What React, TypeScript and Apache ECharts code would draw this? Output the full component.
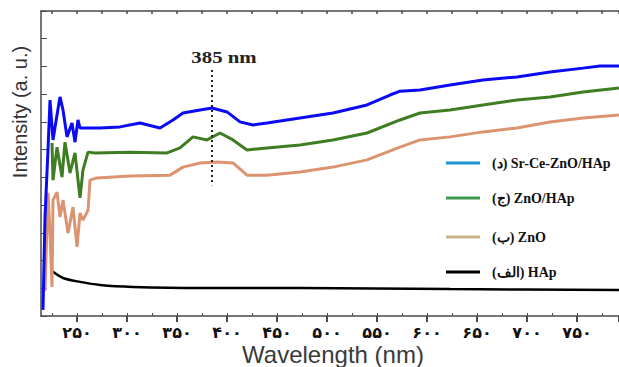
import React, { useEffect, useRef } from "react";
import * as echarts from "echarts";

// Wavelength (nm) and intensity (a.u.)
const blueWl = [216, 218, 221, 223, 226, 230, 233, 236, 240, 245, 248, 251, 253, 273, 293, 313, 333, 346, 356, 373, 385, 400, 413, 426, 440, 473, 506, 540, 563, 573, 593, 623, 656, 690, 723, 756, 773, 792];
const blueVal = [0.22, 3.57, 5.99, 7.79, 6.35, 7.25, 7.9, 7.43, 6.46, 6.96, 6.27, 7.07, 6.78, 6.78, 6.82, 6.96, 6.78, 7.07, 7.32, 7.43, 7.5, 7.36, 7.0, 6.89, 6.96, 7.14, 7.32, 7.61, 7.97, 8.11, 8.15, 8.33, 8.51, 8.62, 8.8, 8.94, 9.02, 9.02];

const greenWl = [225, 226, 230, 235, 238, 243, 248, 253, 256, 261, 268, 303, 340, 353, 366, 380, 393, 406, 420, 440, 473, 506, 540, 573, 593, 623, 656, 690, 723, 756, 792];
const greenVal = [6.24, 4.9, 6.09, 5.01, 6.27, 5.16, 5.88, 4.26, 5.27, 5.91, 5.88, 5.91, 5.88, 6.06, 6.46, 6.35, 6.6, 6.35, 5.99, 6.06, 6.17, 6.35, 6.6, 7.07, 7.32, 7.43, 7.61, 7.79, 7.9, 8.08, 8.22];

const orangeWl = [218, 221, 223, 225, 226, 230, 233, 236, 241, 246, 250, 253, 256, 261, 263, 270, 303, 343, 356, 373, 390, 406, 420, 440, 473, 506, 540, 573, 593, 623, 656, 690, 723, 756, 792];
const orangeVal = [0.9, 4.44, 2.99, 1.05, 4.18, 4.47, 3.57, 4.18, 2.99, 3.93, 2.49, 3.71, 3.46, 3.82, 4.9, 4.98, 5.05, 5.08, 5.37, 5.52, 5.55, 5.52, 5.08, 5.08, 5.19, 5.37, 5.63, 6.09, 6.35, 6.46, 6.64, 6.78, 7.0, 7.14, 7.25];

const blackWl = [225, 236, 253, 273, 306, 373, 473, 623, 792];
const blackVal = [1.62, 1.37, 1.23, 1.12, 1.05, 1.01, 1.01, 0.97, 0.94];

const peakWl = [385, 385];
const peakVal = [8.87, 4.72];

const legendNames = ["(د) Sr-Ce-ZnO/HAp", "(ج) ZnO/HAp", "(ب) ZnO", "(الف) HAp"];
const legendColors = ["#1a96d4", "#3a9a50", "#c8b48a", "#000000"];

const xTitle = "Wavelength (nm)";
const yTitle = "Intensity (a. u.)";

const persian = "۰۱۲۳۴۵۶۷۸۹";
const toPersian = (n: number) => String(n).replace(/\d/g, (d) => persian[Number(d)]);

const zip = (xs: number[], ys: number[]) => xs.map((x, i) => [x, ys[i]]);

export default function App() {
  const ref = useRef<HTMLDivElement>(null);
  useEffect(() => {
    if (!ref.current) return;
    const chart = echarts.init(ref.current, null, { renderer: "svg" });
    const axisColor = "#4a4a4a";
    const legendGraphics: any[] = [];
    const legendY = [163, 198, 237, 272];
    legendNames.forEach((name, i) => {
      legendGraphics.push({
        type: "line",
        shape: { x1: 446, y1: legendY[i], x2: 480, y2: legendY[i] },
        style: { stroke: legendColors[i], lineWidth: 3 },
      });
      legendGraphics.push({
        type: "text",
        x: 492,
        y: legendY[i],
        style: {
          text: name,
          font: "bold 14px 'Liberation Serif', 'DejaVu Serif', serif",
          fill: "#111",
          verticalAlign: "middle",
          align: "left",
        },
      });
    });
    const hiddenY = (gridIndex: number) => ({
      type: "value",
      gridIndex,
      min: 0,
      max: 11,
      show: false,
    });
    const gridBase = { right: 0, top: 11, bottom: 51, containLabel: false, outerBoundsMode: "none" };
    chart.setOption({
      animation: false,
      backgroundColor: "#ffffff",
      grid: [
        { ...gridBase, left: 41 },
        { ...gridBase, left: 52 },
        { ...gridBase, left: 77 },
      ],
      xAxis: [
        {
          // data axis (bottom line)
          type: "value",
          gridIndex: 0,
          position: "bottom",
          min: 214,
          max: 792,
          axisLine: { lineStyle: { color: axisColor, width: 1.5 } },
          axisTick: { show: false },
          axisLabel: { show: false },
          splitLine: { show: false },
        },
        {
          // top line
          type: "value",
          gridIndex: 0,
          position: "top",
          min: 214,
          max: 792,
          axisLine: { lineStyle: { color: axisColor, width: 1.5 } },
          axisTick: { show: false },
          axisLabel: { show: false },
          splitLine: { show: false },
        },
        {
          // bottom ticks and labels every 25 nm from 225
          type: "value",
          gridIndex: 1,
          position: "bottom",
          min: 225,
          max: 792,
          interval: 25,
          axisLine: { show: false },
          axisTick: { inside: true, length: 3, lineStyle: { color: axisColor } },
          splitLine: { show: false },
          axisLabel: {
            margin: 8,
            color: "#111",
            fontSize: 16,
            lineHeight: 16,
            fontWeight: "bold",
            fontFamily: "'DejaVu Sans', sans-serif",
            showMaxLabel: false,
            formatter: (v: number) => (v % 50 === 0 ? toPersian(v) : ""),
          },
        },
        {
          // top minor ticks
          type: "value",
          gridIndex: 1,
          position: "top",
          min: 225,
          max: 792,
          interval: 25,
          axisLine: { show: false },
          axisTick: { inside: true, length: 3, lineStyle: { color: axisColor, width: 1.5 } },
          axisLabel: { show: false },
          splitLine: { show: false },
        },
        {
          // top major ticks
          type: "value",
          gridIndex: 2,
          position: "top",
          min: 250,
          max: 792,
          interval: 50,
          axisLine: { show: false },
          axisTick: { inside: true, length: 6, lineStyle: { color: axisColor, width: 2 } },
          axisLabel: { show: false },
          splitLine: { show: false },
        },
      ],
      yAxis: [
        {
          type: "value",
          gridIndex: 0,
          min: 0,
          max: 11,
          interval: 1,
          axisLine: { show: true, lineStyle: { color: axisColor, width: 1.5 } },
          axisTick: { show: true, inside: true, length: 6, lineStyle: { color: axisColor } },
          axisLabel: { show: false },
          splitLine: { show: false },
        },
        hiddenY(1),
        hiddenY(2),
      ],
      series: [
        { type: "line", xAxisIndex: 0, yAxisIndex: 0, data: zip(blackWl, blackVal), showSymbol: false, smooth: 0.3, lineStyle: { color: "#000", width: 2.5 } },
        { type: "line", xAxisIndex: 0, yAxisIndex: 0, data: zip(orangeWl, orangeVal), showSymbol: false, lineStyle: { color: "#dc9470", width: 3 } },
        { type: "line", xAxisIndex: 0, yAxisIndex: 0, data: zip(greenWl, greenVal), showSymbol: false, lineStyle: { color: "#3f7d22", width: 3 } },
        { type: "line", xAxisIndex: 0, yAxisIndex: 0, data: zip(blueWl, blueVal), showSymbol: false, lineStyle: { color: "#0a0af5", width: 3 } },
        { type: "line", xAxisIndex: 0, yAxisIndex: 0, data: zip(peakWl, peakVal), showSymbol: false, lineStyle: { color: "#222", width: 2, type: [2, 3] } },
      ],
      graphic: [
        {
          type: "text",
          x: 20,
          y: 112,
          rotation: Math.PI / 2,
          style: {
            text: yTitle,
            font: "20px 'Liberation Sans', Arial, sans-serif",
            fill: "#333",
            align: "center",
            verticalAlign: "middle",
          },
        },
        {
          type: "text",
          x: 333,
          y: 354,
          style: {
            text: xTitle,
            font: "24px 'Liberation Sans', Arial, sans-serif",
            fill: "#3a3a3a",
            align: "center",
            verticalAlign: "middle",
          },
        },
        {
          type: "text",
          x: 224,
          y: 57,
          scaleX: 1.3,
          style: {
            text: "385 nm",
            font: "bold 16px 'Liberation Serif', serif",
            fill: "#222",
            align: "center",
            verticalAlign: "middle",
          },
        },
        ...legendGraphics,
      ],
    });
    return () => chart.dispose();
  }, []);
  return <div ref={ref} style={{ width: 619, height: 367, position: "absolute", left: 0, top: 0 }} />;
}
